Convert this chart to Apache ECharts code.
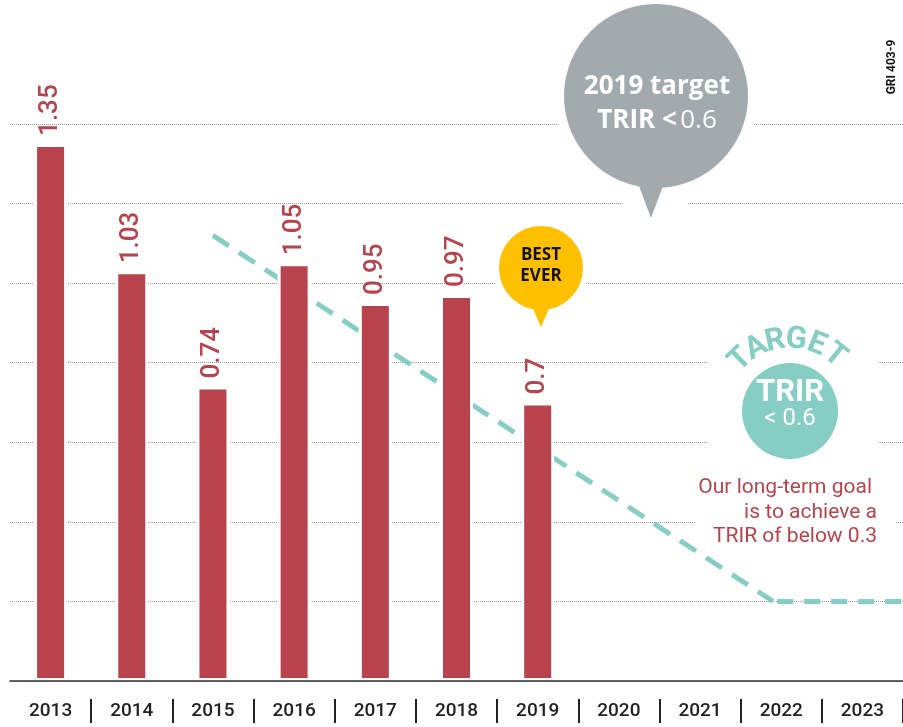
<!DOCTYPE html>
<html>
<head>
<meta charset="utf-8">
<script src="https://cdn.jsdelivr.net/npm/echarts@6/dist/echarts.min.js"></script>
<style>
  html, body { margin: 0; padding: 0; background: #fff; }
  #trir_chart { width: 903px; height: 727px; }
</style>
</head>
<body>
<div id="trir_chart"></div>
<script>
// years on the x axis
var years = ['2013', '2014', '2015', '2016', '2017', '2018', '2019', '2020', '2021', '2022', '2023'];
// TRIR per year (bars)
var trir = [1.35, 1.03, 0.74, 1.05, 0.95, 0.97, 0.7];
// dashed trend towards the long-term goal: [category position, value]
var trend = [[2, 1.12], [8.9, 0.2]];
// long-term goal level, runs to the right edge
var goal = [[8.95, 0.2], [10.5, 0.2]];

var red = '#b8434c';
var teal = '#86cdc3';
var grey = '#a3aaae';
var yellow = '#ffc000';

function create_chart() {
  var myChart = echarts.init(document.getElementById('trir_chart'));

  // letters of "TARGET" bent over the teal circle
  var arc = [];
  var word = 'TARGET';
  var angles = [-44, -28, -12, 5, 22, 39];
  for (var i = 0; i < word.length; i++) {
    var a = angles[i] * Math.PI / 180;
    arc.push({
      type: 'text', z: 120,
      x: 790 + 71 * Math.sin(a),
      y: 411 - 71 * Math.cos(a),
      rotation: -a,
      style: {
        text: word[i], fill: teal, align: 'center', verticalAlign: 'middle',
        font: 'bold 31px Roboto'
      }
    });
  }

  var option = {
    animation: false,
    grid: { left: 10, right: -1, top: 124, bottom: 46 },
    xAxis: [
      {
        type: 'category',
        data: years,
        z: 10,
        axisLine: { lineStyle: { color: '#333', width: 1.5 } },
        axisTick: { show: false },
        axisLabel: { color: '#222', fontSize: 19, fontWeight: 500, fontFamily: 'Roboto', margin: 21 }
      },
      {
        // same span as the category bands, for the trend line
        type: 'value', min: -0.5, max: 10.5, show: false
      },
      {
        // separators between the year labels
        type: 'category',
        data: years,
        position: 'bottom',
        offset: 18,
        axisLine: { show: false },
        axisLabel: { show: false },
        axisTick: {
          show: true, length: 24,
          interval: function (idx) { return idx > 0; },
          lineStyle: { color: '#222', width: 2 }
        }
      }
    ],
    yAxis: {
      type: 'value',
      min: 0, max: 1.4, interval: 0.2,
      axisLine: { show: false },
      axisTick: { show: false },
      axisLabel: { show: false },
      splitLine: { lineStyle: { color: '#9a9a9a', type: 'dotted', width: 1 } }
    },
    series: [
      {
        type: 'line',
        xAxisIndex: 1,
        z: 1,
        data: trend,
        symbol: 'none',
        lineStyle: { color: teal, width: 5, type: [19, 12] }
      },
      {
        type: 'line',
        xAxisIndex: 1,
        z: 1,
        data: goal,
        symbol: 'none',
        lineStyle: { color: teal, width: 5, type: [16, 11] }
      },
      {
        type: 'bar',
        data: trir,
        barWidth: 33,
        z: 3,
        itemStyle: { color: red, borderColor: '#fff', borderWidth: 3 },
        label: {
          show: true,
          position: 'top',
          rotate: 90,
          align: 'left',
          verticalAlign: 'middle',
          distance: 8,
          color: red,
          fontSize: 26,
          fontWeight: 500,
          fontFamily: 'Roboto'
        }
      }
    ],
    graphic: [
      // white patches that break the grid lines behind the notes
      { type: 'rect', z: 100, shape: { x: 622, y: 196, width: 65, height: 16 }, style: { fill: '#fff' } },
      { type: 'rect', z: 100, shape: { x: 707, y: 325, width: 170, height: 135 }, style: { fill: '#fff' } },
      { type: 'rect', z: 100, shape: { x: 695, y: 472, width: 200, height: 76 }, style: { fill: '#fff' } },

      // 2019 target bubble
      { type: 'circle', z: 110, shape: { cx: 656, cy: 96, r: 92 }, style: { fill: grey, stroke: '#fff', lineWidth: 20 } },
      { type: 'circle', z: 111, shape: { cx: 656, cy: 96, r: 92 }, style: { fill: grey } },
      { type: 'polygon', z: 111, shape: { points: [[636, 178], [666, 178], [651, 218]] }, style: { fill: grey } },
      {
        type: 'text', z: 112, x: 657, y: 87,
        style: { text: '2019 target', fill: '#fff', align: 'center', verticalAlign: 'middle', font: 'bold 26px "Open Sans"' }
      },
      {
        type: 'text', z: 112, x: 657, y: 121,
        style: {
          text: '{b|TRIR <} {r|0.6}', align: 'center', verticalAlign: 'middle',
          rich: {
            b: { fill: '#fff', font: 'bold 26px "Open Sans"' },
            r: { fill: '#fff', font: '26px "Open Sans"' }
          }
        }
      },

      // best ever bubble
      { type: 'circle', z: 110, shape: { cx: 541, cy: 268, r: 45 }, style: { fill: yellow, stroke: '#fff', lineWidth: 6 } },
      { type: 'polygon', z: 111, shape: { points: [[531, 304], [551, 304], [541, 327]] }, style: { fill: yellow } },
      {
        type: 'text', z: 112, x: 541, y: 266,
        style: { text: 'BEST\nEVER', fill: '#111', align: 'center', verticalAlign: 'middle', lineHeight: 21, font: 'bold 17px "Open Sans"' }
      },

      // long-term target badge
      { type: 'circle', z: 110, shape: { cx: 790, cy: 411, r: 48 }, style: { fill: teal } },
      {
        type: 'text', z: 112, x: 790, y: 393,
        style: { text: 'TRIR', fill: '#fff', align: 'center', verticalAlign: 'middle', font: 'bold 31px Roboto' }
      },
      {
        type: 'text', z: 112, x: 790, y: 419,
        style: { text: '< 0.6', fill: '#fff', align: 'center', verticalAlign: 'middle', font: '24px Roboto' }
      },

      // note in red
      {
        type: 'text', z: 112, x: 872, y: 488,
        style: { text: 'Our long-term goal', fill: red, align: 'right', verticalAlign: 'middle', font: '21px Roboto' }
      },
      {
        type: 'text', z: 112, x: 877, y: 513,
        style: { text: 'is to achieve a', fill: red, align: 'right', verticalAlign: 'middle', font: '21px Roboto' }
      },
      {
        type: 'text', z: 112, x: 877, y: 537,
        style: { text: 'TRIR of below 0.3', fill: red, align: 'right', verticalAlign: 'middle', font: '21px Roboto' }
      },

      // reference code
      {
        type: 'text', z: 112, x: 892, y: 67, rotation: Math.PI / 2,
        style: { text: 'GRI 403-9', fill: '#111', align: 'center', verticalAlign: 'middle', font: 'bold 12px Roboto' }
      }
    ].concat(arc)
  };

  myChart.setOption(option);
  return myChart;
}

create_chart();
</script>
</body>
</html>
